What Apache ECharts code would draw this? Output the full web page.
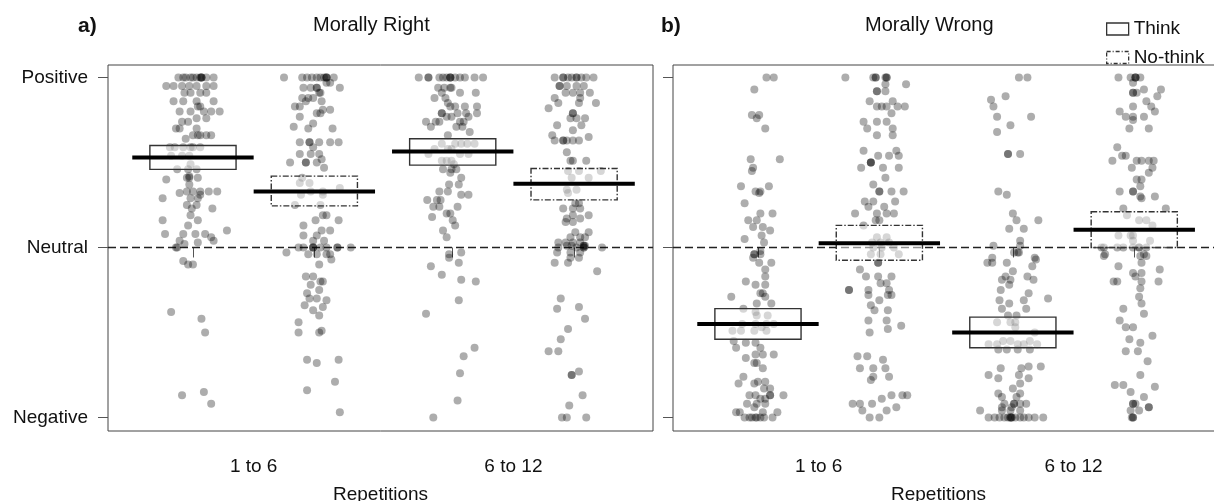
<!DOCTYPE html>
<html><head><meta charset="utf-8">
<script src="https://cdn.jsdelivr.net/npm/echarts@6/dist/echarts.min.js"></script>
<style>html,body{margin:0;padding:0;background:#fff}#c{width:1214px;height:501px}</style>
</head><body><div id="c"></div>
<script>
// ---------------- DATA ----------------
const panelTitles = ['Morally Right', 'Morally Wrong'];
const panelTags = ['a)', 'b)'];
const repetitionLabels = ['1 to 6', '6 to 12'];
const conditionNames = ['Think', 'No-think'];
const yTickValues = [-100, 0, 100];
const yTickLabels = ['Negative', 'Neutral', 'Positive'];
const xAxisName = 'Repetitions';

// group order: Think 1-6, No-think 1-6, Think 6-12, No-think 6-12
const positionsRight = [1, 2, 3.14, 4.14];
const positionsWrong = [1, 2, 3.10, 4.10];
const meansRight = [53, 33, 56.5, 37.5];
const lowRight = [46, 24.5, 48.5, 28];
const highRight = [60, 42, 64, 46.5];
const meansWrong = [-45, 2.5, -50, 10.5];
const lowWrong = [-54, -7.5, -59, 0];
const highWrong = [-36, 13, -41, 21];

// points: [horizontal jitter, rating]
const right_think_1to6 = [
[-0.12,100],[-0.06,100],[0,100],[0.03,100],[0.06,100],[0.07,100],[0.07,100],[0.07,100],[0.11,100],[0.17,100],[-0.08,100],[-0.02,100],
[-0.22,95],[-0.16,95],[-0.09,95],[-0.03,95],[0.03,95],[0.11,95],[0.17,95],
[-0.07,91],[-0.02,91],[0.06,91],[0.11,91],
[-0.16,86],[-0.08,86],[0.03,86],[0.17,86],[0.04,83],[0.06,83],
[-0.11,80],[-0.02,80],[0.09,80],[0.15,80],[0.22,80],
[0.03,76],[0.11,76],[-0.09,74],[-0.04,74],[-0.14,70],[-0.11,70],[0.03,70],
[0,66],[0.04,66],[0.06,66],[0.11,66],[0.15,66],[-0.06,64],
[-0.19,59],[-0.15,59],[-0.08,59],[-0.02,59],[0,59],[0.06,59],
[-0.18,54],[-0.09,54],[-0.03,54],[-0.02,49],[-0.13,46],[-0.04,46],[0.03,46],
[-0.05,41],[-0.03,41],[-0.03,42],[0.04,41],[-0.22,40],[-0.03,37],
[-0.05,33],[0,33],[0.06,33],[0.13,33],[0.2,33],[-0.11,32],[0.06,31],
[-0.25,29],[-0.02,29],[0.04,29],[-0.05,25],[0.03,25],[-0.01,23],[0.16,23],
[-0.02,19],[-0.25,16],[0.04,16],[-0.04,13],[0.28,10],
[-0.23,8],[-0.08,8],[0.02,8],[0.1,8],[0.15,6],[-0.11,4],[0.17,4],[0.04,3],[-0.07,2],
[-0.13,0],[-0.14,0],[-0.08,-8],[-0.04,-10],[0,-10],
[-0.18,-38],[0.07,-42],[0.1,-50],[0.09,-85],[-0.09,-87],[0.15,-92]
];
const right_nothink_1to6 = [
[-0.25,100],[-0.10,100],[-0.06,100],[-0.02,100],[0.02,100],[0.05,100],[0.08,100],[0.10,100],[0.10,100],[0.10,100],[0.16,100],
[0.10,97],[0.13,97],[-0.09,94],[-0.03,94],[0.02,94],[0.02,94],[0.21,94],
[0.04,91],[0.05,91],[-0.10,88],[-0.05,88],[-0.01,88],[-0.07,86],[0.06,86],
[-0.16,83],[-0.12,83],[0.07,81],[0.13,81],[0.02,79],[0.05,79],[-0.12,77],
[-0.01,73],[-0.17,71],[-0.05,70],[0.15,70],
[-0.12,62],[-0.04,62],[-0.04,62],[0.04,62],[0.13,62],[0.20,62],[-0.01,59],
[-0.12,55],[-0.03,55],[0.04,55],[0.06,52],[-0.20,50],[-0.07,50],[-0.07,50],[0.02,50],[0.08,47],
[-0.10,41],[-0.04,38],[-0.12,38],[0.21,35],[-0.03,33],[0.07,33],[-0.11,31],[0.07,31],
[-0.16,25],[0.05,25],[0.07,19],[0.10,19],[0.20,16],[0.01,16],[-0.09,13],[0.06,10],[0.13,10],
[-0.09,7],[0.02,7],[-0.01,4],[0.08,4],
[-0.13,0],[-0.09,0],[-0.01,0],[-0.01,0],[-0.01,0],[0.05,0],[0.10,0],[0.19,0],[0.19,0],[0.30,0],
[-0.23,-3],[-0.05,-4],[0.02,-4],[0.10,-4],[0.13,-4],[0.14,-7],[0.04,-10],
[-0.07,-17],[-0.01,-17],[0.05,-20],[0.07,-20],[-0.03,-22],[0.04,-25],[-0.06,-27],
[-0.04,-30],[0.02,-30],[0.10,-31],[-0.08,-34],[0.07,-35],[-0.01,-37],[0.04,-40],
[-0.13,-44],[0.06,-49],[-0.13,-50],[0.04,-50],[-0.06,-66],[0.20,-66],[0.02,-68],
[0.17,-79],[-0.06,-84],[0.21,-97]
];
const right_think_6to12 = [
[-0.28,100],[-0.20,100],[-0.20,100],[-0.11,100],[-0.08,100],[-0.05,100],[-0.02,100],[-0.02,100],[-0.02,100],[0.02,100],[0.06,100],[0.10,100],[0.18,100],[0.25,100],
[-0.12,94],[-0.07,94],[-0.02,94],[-0.01,94],[-0.09,91],[0.06,91],[0.19,91],[-0.15,88],[-0.06,88],[-0.04,85],
[-0.02,83],[0.02,83],[0.10,83],[0.20,83],[-0.09,79],[-0.09,79],[0.04,79],[0.11,79],[0.20,79],
[-0.05,77],[-0.01,77],[0.13,77],[-0.22,74],[-0.14,74],[-0.11,74],[0.06,74],[0.09,74],
[-0.18,71],[0.03,71],[0.08,71],[0.14,68],[-0.04,66],
[-0.09,61],[0.02,61],[0.07,61],[0.12,61],[0.18,61],[-0.15,58],[-0.04,58],[-0.01,58],
[-0.20,55],[0.06,55],[0.13,55],[-0.09,51],[-0.05,51],[-0.01,51],[0.01,49],
[-0.08,46],[-0.01,46],[0.03,46],[-0.02,44],[0.07,41],[0.05,37],[-0.03,37],
[-0.11,33],[-0.04,33],[0.07,31],[0.13,31],[-0.21,28],[-0.13,28],[-0.10,28],
[-0.16,24],[-0.11,24],[0.04,24],[-0.05,20],[-0.02,20],[-0.17,18],[0,16],[0.02,13],[-0.08,10],[-0.05,6],
[0.07,-3],[-0.03,-4],[-0.03,-6],[0.05,-9],[-0.18,-11],[-0.09,-16],[0.07,-19],[0.19,-20],
[0.05,-31],[-0.22,-39],[0.18,-59],[0.09,-64],[0.06,-74],[0.04,-90],[-0.16,-100]
];
const right_nothink_6to12 = [
[-0.16,100],[-0.09,100],[-0.09,100],[-0.05,100],[-0.02,100],[0.02,100],[0.02,100],[0.06,100],[0.10,100],[0.16,100],
[-0.12,95],[-0.12,95],[-0.06,95],[0.02,95],[0.08,95],[-0.07,91],[-0.01,91],[0.05,91],[0.13,91],
[-0.16,88],[0.05,88],[-0.13,85],[0.04,85],[0.18,85],[-0.21,82],[-0.01,79],[-0.01,79],
[-0.03,76],[0.02,76],[0.09,76],[-0.14,72],[0.06,72],[-0.01,69],[-0.18,66],[0.12,65],
[-0.16,63],[-0.09,63],[-0.09,63],[-0.06,63],[-0.01,63],[0.04,63],[-0.06,56],
[-0.03,51],[-0.01,51],[0.10,51],[-0.05,45],[0.04,45],[0.22,45],[-0.02,41],[0.12,41],
[-0.06,34],[0.02,34],[-0.05,32],[0.01,26],[0.04,26],[-0.09,23],[-0.01,23],[0.05,23],
[-0.01,19],[0.12,19],[-0.06,17],[0.05,17],[-0.07,15],[-0.01,15],[0.01,9],[0.12,9],
[-0.03,6],[0.05,6],[0.09,6],[-0.13,3],[-0.07,3],[-0.01,3],[0.05,3],
[-0.06,1],[-0.02,1],[0.08,1],[0.08,1],[0.09,1],[-0.13,0],[0.02,0],[0.08,0],[0.08,0],[0.23,0],
[-0.14,-3],[-0.03,-3],[0.05,-3],[-0.03,-6],[0.04,-6],[-0.16,-9],[-0.05,-9],[0.19,-14],
[-0.11,-30],[0.04,-35],[-0.14,-36],[0.09,-42],[-0.05,-48],[-0.11,-54],[-0.21,-61],[-0.13,-61],
[0.04,-73],[-0.02,-75],[-0.02,-75],[0.07,-87],[-0.04,-93],[-0.10,-100],[-0.06,-100],[0.10,-100]
];
const wrong_think_1to6 = [
[0.07,100],[0.13,100],[-0.03,93],[-0.05,78],[0.01,78],[-0.01,76],[0.06,70],
[-0.06,52],[0.18,52],[-0.04,47],[-0.05,45],[-0.14,36],[0.09,36],[-0.02,33],[0.02,33],[0.01,32],
[-0.11,26],[0.02,20],[0.12,20],[-0.08,16],[-0.01,16],[-0.04,12],[0.04,12],[0.10,10],[0.03,7],[-0.11,5],[0.05,3],
[0.02,-2],[-0.03,-4],[-0.03,-4],[0.02,-4],[-0.04,-6],[0.01,-9],[0.11,-9],[0.06,-13],[0.06,-17],
[-0.10,-20],[0.06,-22],[-0.02,-22],[0.02,-27],[0.04,-27],[-0.22,-29],[0.06,-29],
[-0.01,-33],[0.11,-33],[-0.12,-36],[-0.02,-38],[-0.01,-40],[0.08,-40],
[-0.13,-45],[-0.02,-45],[0.07,-45],[0.13,-45],[0.03,-47],[-0.21,-49],[-0.14,-49],[-0.03,-49],[0.07,-49],
[-0.20,-55],[-0.10,-56],[-0.02,-56],[-0.18,-59],[0.02,-59],[-0.02,-63],[0.04,-63],[0.13,-63],
[-0.10,-65],[-0.01,-68],[-0.03,-68],[0.04,-71],[-0.12,-76],[0,-79],[0.06,-79],[-0.16,-80],[-0.03,-80],
[0.05,-83],[0.10,-83],[-0.07,-87],[-0.02,-87],[0.10,-87],[0.10,-87],[0.21,-87],[0.02,-89],[0.06,-89],
[-0.09,-92],[-0.01,-92],[0.06,-92],[-0.03,-94],[-0.18,-97],[-0.15,-97],[0.04,-97],[0.16,-97],
[-0.11,-100],[-0.07,-100],[-0.05,-100],[-0.02,-100],[-0.01,-100],[0.02,-100],[0.05,-100],[0.12,-100]
];
const wrong_nothink_1to6 = [
[-0.28,100],[-0.05,100],[-0.03,100],[-0.03,100],[0.05,100],[0.06,100],[0.06,100],
[0.05,96],[0.22,96],[-0.02,92],[-0.02,92],[0.05,92],[-0.08,86],[0.11,86],
[-0.02,83],[0.02,83],[0.06,83],[0.15,83],[0.21,83],[0.10,79],[-0.13,74],[-0.02,74],[0.06,74],
[-0.10,70],[0.11,70],[-0.02,66],[0.11,66],[-0.13,57],[0.14,57],[-0.01,54],[0.08,54],[0.16,54],
[-0.07,50],[-0.07,50],[-0.07,50],[-0.15,47],[0.03,47],[0.16,47],[0.05,41],[-0.05,37],
[0,33],[0,33],[0.10,33],[0.20,33],[-0.12,27],[-0.05,27],[0.13,27],[0.04,24],[-0.09,24],
[-0.20,20],[-0.02,20],[0.06,20],[0.12,20],[-0.03,16],[0,16],[-0.13,13],
[-0.02,6],[0.06,6],[-0.06,3],[0.01,3],[0.08,3],[-0.05,0],[0.02,0],[0.12,0],
[-0.07,-4],[0.01,-4],[0.16,-4],[-0.01,-9],[-0.01,-9],[-0.16,-13],[-0.11,-17],[-0.01,-17],[0.10,-17],
[0.01,-21],[0.06,-21],[-0.25,-25],[-0.25,-25],[-0.09,-25],[0.08,-25],[-0.09,-28],[0.07,-28],[0.10,-28],
[0,-31],[-0.07,-34],[-0.04,-37],[0.07,-37],[-0.09,-43],[0.06,-43],[0.18,-46],[0.07,-48],[-0.08,-50],
[-0.18,-64],[-0.10,-64],[0.03,-66],[-0.16,-71],[-0.05,-71],[0.05,-71],[0.08,-76],[-0.05,-76],[-0.07,-78],
[0.10,-87],[0.19,-87],[0.23,-87],[0.02,-89],[-0.22,-92],[-0.16,-92],[-0.06,-92],[0.14,-94],
[-0.14,-96],[0.06,-96],[-0.08,-100],[0,-100]
];
const wrong_think_6to12 = [
[0.05,100],[0.12,100],[-0.06,89],[-0.18,87],[-0.16,83],[-0.13,77],[0.15,77],[-0.02,72],[-0.13,68],
[-0.04,55],[-0.04,55],[0.06,55],[-0.12,33],[-0.05,31],[0,20],[0.03,16],[0.21,16],[-0.03,11],[0.09,11],
[0.06,4],[-0.16,1],[0.06,1],[0.01,-3],[0.05,-3],[0.04,-3],[-0.17,-6],[0.18,-6],[0.19,-7],
[-0.21,-9],[-0.17,-9],[-0.05,-9],[0.16,-11],[0,-14],[-0.06,-17],[0.12,-17],
[-0.09,-19],[-0.02,-19],[0.17,-19],[-0.03,-22],[-0.10,-25],[0.13,-27],[0.29,-30],[0.09,-31],[-0.11,-31],
[-0.03,-33],[-0.09,-36],[0.11,-36],[-0.04,-40],[0.03,-40],[-0.13,-44],[-0.02,-44],[0.02,-44],[0.02,-47],[0.18,-50],
[-0.08,-55],[-0.02,-55],[0.14,-55],[-0.20,-57],[-0.13,-57],[0.04,-57],[0.09,-57],[0.20,-57],
[-0.12,-60],[-0.05,-60],[0.04,-60],[0.14,-60],[0.13,-70],[0.23,-70],[-0.10,-71],[0.07,-71],
[-0.20,-75],[0.05,-75],[-0.12,-77],[0.13,-77],[0.06,-80],[0,-83],[-0.12,-86],[0.06,-86],[-0.09,-88],[0.03,-88],
[-0.07,-92],[0.01,-92],[0.01,-92],[0.06,-92],[0.11,-92],[-0.09,-94],[-0.01,-94],
[-0.27,-96],[-0.09,-96],[-0.02,-96],[0.06,-96],
[-0.20,-100],[-0.15,-100],[-0.11,-100],[-0.07,-100],[-0.04,-100],[-0.02,-100],[-0.02,-100],[-0.01,-100],[-0.01,-100],
[0.02,-100],[0.06,-100],[0.09,-100],[0.13,-100],[0.18,-100],[0.25,-100]
];
const wrong_nothink_6to12 = [
[-0.13,100],[-0.03,100],[0.01,100],[0.01,100],[0.01,100],[0.05,100],[-0.01,97],[0.08,93],[0.22,93],
[-0.01,91],[-0.01,91],[0.02,91],[0.19,89],[0.10,86],[-0.01,83],[0.14,83],[-0.12,80],[0.17,80],
[-0.07,77],[-0.01,77],[0.08,77],[-0.01,75],[-0.04,70],[0.12,70],[-0.14,59],[-0.10,54],[-0.07,54],
[-0.18,51],[0.02,51],[0.06,51],[0.12,51],[0.16,51],[-0.02,47],[0.15,47],[0.12,44],[0.02,40],[0.06,40],
[0.05,36],[-0.12,33],[-0.01,33],[-0.01,33],[0.05,30],[0.17,30],[0.06,29],[0.26,23],[-0.09,23],[-0.06,19],
[0.04,16],[0.10,16],[0.15,13],[-0.13,7],[-0.03,7],[-0.01,7],[0.13,4],[-0.01,4],
[-0.25,0],[-0.09,0],[-0.01,0],[0.04,0],[0.04,0],[0.10,0],[-0.27,0],[-0.14,0],
[-0.24,-4],[0.08,-4],[-0.25,-5],[0.05,-5],[0.10,-5],[0.06,-9],[-0.13,-11],[0.21,-13],[-0.01,-15],[0.06,-15],[0.01,-17],
[-0.17,-20],[-0.14,-20],[0.06,-20],[0.20,-20],[0.05,-24],[0.04,-29],[0.06,-33],[-0.09,-36],[0.08,-39],
[-0.12,-43],[-0.07,-47],[-0.01,-47],[0.15,-52],[-0.04,-54],[0.05,-56],[-0.07,-61],[0.03,-61],[0.11,-67],
[0.05,-75],[-0.09,-81],[-0.16,-81],[0.17,-82],[-0.03,-85],[0.08,-88],[-0.01,-92],[-0.01,-92],[0.01,-92],
[0.12,-94],[0.12,-94],[-0.03,-96],[0.04,-96],[-0.02,-100],[-0.01,-100],[-0.01,-100]
];

// ---------------- CHART ----------------
const FONT = "'Liberation Sans', Arial, Helvetica, sans-serif";
const TEXT = '#111';
const BOX_HALF = 0.355;
const MEAN_HALF = 0.5;

const panels = [
  { grid: {left: 108, top: 65, width: 545, height: 366}, positions: positionsRight,
    groups: [right_think_1to6, right_nothink_1to6, right_think_6to12, right_nothink_6to12],
    means: meansRight, low: lowRight, high: highRight, showY: true, namePad: [0, 0, 0, 0] },
  { grid: {left: 673, top: 65, width: 545, height: 366}, positions: positionsWrong,
    groups: [wrong_think_1to6, wrong_nothink_1to6, wrong_think_6to12, wrong_nothink_6to12],
    means: meansWrong, low: lowWrong, high: highWrong, showY: false, namePad: [0, 14, 0, 0] }
];

function boxRenderer(dash) {
  return function (params, api) {
    const x = api.value(0), m = api.value(1), lo = api.value(2), hi = api.value(3);
    const a = api.coord([x - BOX_HALF, hi]);
    const b = api.coord([x + BOX_HALF, lo]);
    const l1 = api.coord([x - MEAN_HALF, m]);
    const l2 = api.coord([x + MEAN_HALF, m]);
    return {
      type: 'group',
      children: [
        { type: 'rect', shape: {x: a[0], y: a[1], width: b[0] - a[0], height: b[1] - a[1]},
          style: {fill: 'rgba(255,255,255,0.5)', stroke: '#333', lineWidth: 1.4, lineDash: dash} },
        { type: 'line', shape: {x1: l1[0], y1: l1[1], x2: l2[0], y2: l2[1]},
          style: {stroke: '#000', lineWidth: 4} }
      ]
    };
  };
}

const grids = [], xAxes = [], yAxes = [], series = [];
panels.forEach((p, i) => {
  grids.push(Object.assign({show: true, borderColor: '#444', borderWidth: 1, backgroundColor: 'transparent',
    containLabel: false, outerBoundsMode: 'none'}, p.grid));
  const labelVals = [(p.positions[0] + p.positions[1]) / 2, (p.positions[2] + p.positions[3]) / 2];
  xAxes.push({
    gridIndex: i, type: 'value', min: 0.3, max: 4.79,
    splitLine: {show: false}, axisLine: {show: false},
    axisTick: {show: true, customValues: p.positions, length: 10, inside: false, lineStyle: {color: '#555', width: 1}},
    axisLabel: {show: true, customValues: labelVals, margin: 26, fontSize: 19, fontFamily: FONT, color: TEXT,
      formatter: v => repetitionLabels[v < 2.5 ? 0 : 1]},
    name: xAxisName, nameLocation: 'middle', nameGap: 54,
    nameTextStyle: {fontSize: 19, fontFamily: FONT, color: TEXT, padding: p.namePad}
  });
  yAxes.push({
    gridIndex: i, type: 'value', min: -108, max: 107.4,
    splitLine: {show: false}, axisLine: {show: false},
    axisTick: {show: true, customValues: yTickValues, length: 10, inside: false, lineStyle: {color: '#555', width: 1}},
    axisLabel: {show: p.showY, customValues: yTickValues, margin: 20, fontSize: 19, fontFamily: FONT, color: TEXT,
      formatter: v => yTickLabels[yTickValues.indexOf(v)]}
  });
  const pts = [];
  p.groups.forEach((g, gi) => g.forEach(d => pts.push([p.positions[gi] + d[0], d[1]])));
  series.push({
    type: 'scatter', xAxisIndex: i, yAxisIndex: i, data: pts, symbolSize: 8, silent: true, z: 2,
    itemStyle: {color: 'rgba(0,0,0,0.4)'},
    markLine: {silent: true, symbol: 'none', label: {show: false}, z: 1,
      lineStyle: {color: '#222', width: 1.3, type: [8, 4]}, data: [{yAxis: 0}]}
  });
  [0, 1].forEach(c => {
    const data = [c, c + 2].map(gi => [p.positions[gi], p.means[gi], p.low[gi], p.high[gi]]);
    series.push({
      type: 'custom', name: conditionNames[c], xAxisIndex: i, yAxisIndex: i, z: 5, silent: true, clip: false,
      itemStyle: {color: '#fff', borderColor: '#333'},
      encode: {x: 0, y: [1, 2, 3]}, data: data,
      renderItem: boxRenderer(c === 0 ? null : [6, 2, 1.5, 2])
    });
  });
});

const option = {
  animation: false,
  backgroundColor: '#fff',
  grid: grids, xAxis: xAxes, yAxis: yAxes, series: series,
  legend: {
    orient: 'vertical', left: 1101, top: 13, itemWidth: 22, itemHeight: 12, itemGap: 6.5, selectedMode: false,
    textStyle: {fontSize: 19, fontFamily: FONT, color: TEXT, lineHeight: 22},
    data: [
      {name: conditionNames[0], icon: 'rect', itemStyle: {color: '#fff', borderColor: '#333', borderWidth: 1.3, borderType: 'solid'}},
      {name: conditionNames[1], icon: 'rect', itemStyle: {color: '#fff', borderColor: '#333', borderWidth: 1.3, borderType: [4, 2, 1, 2]}}
    ]
  },
  graphic: [
    {type: 'text', x: 78, y: 26, style: {text: panelTags[0], font: 'bold 21px ' + FONT, fill: TEXT, textVerticalAlign: 'middle'}},
    {type: 'text', x: 313, y: 25.5, style: {text: panelTitles[0], font: '20px ' + FONT, fill: TEXT, textVerticalAlign: 'middle'}},
    {type: 'text', x: 661, y: 26, style: {text: panelTags[1], font: 'bold 21px ' + FONT, fill: TEXT, textVerticalAlign: 'middle'}},
    {type: 'text', x: 865, y: 25.5, style: {text: panelTitles[1], font: '20px ' + FONT, fill: TEXT, textVerticalAlign: 'middle'}}
  ]
};

const chart = echarts.init(document.getElementById('c'));
chart.setOption(option);
</script>
</body></html>
